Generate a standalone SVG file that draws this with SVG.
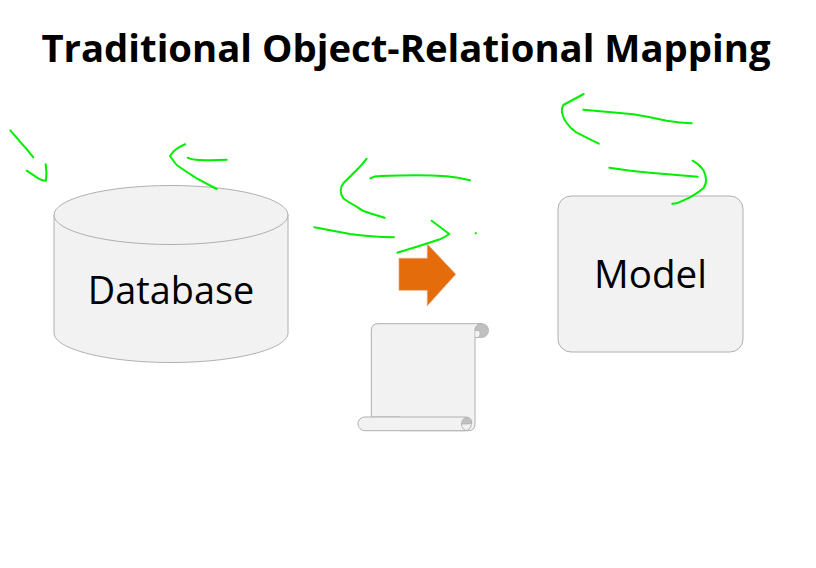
<svg xmlns="http://www.w3.org/2000/svg" width="816" height="568" viewBox="0 0 816 568">
<style>
.shape{fill:#f2f2f2;stroke:#b0b0b0;stroke-width:1}
.curl{fill:#c0c0c0;stroke:#b0b0b0;stroke-width:0.800}
.ink{fill:none;stroke:#00ee00;stroke-width:2;stroke-linecap:round;stroke-linejoin:round}
.label{font-family:"Open Sans","Noto Sans",sans-serif;fill:#000}
</style>
<rect width="816" height="568" fill="#fff"/>
<text id="title" class="label" x="406" y="62" text-anchor="middle" font-size="38.300" font-weight="700">Traditional Object-Relational Mapping</text>
<g id="database">
<path class="shape" d="M54 215V333C54 349 106.500 362.500 171 362.500S288 349 288 333V215Z"/>
<ellipse class="shape" cx="171" cy="215" rx="117" ry="29.500"/>
<text class="label" x="171" y="303.500" text-anchor="middle" font-size="37.800">Database</text>
</g>
<g id="model">
<rect class="shape" x="558" y="196" width="185" height="156" rx="13"/>
<text class="label" x="650.500" y="288" text-anchor="middle" font-size="38.600">Model</text>
</g>
<g id="arrow">
<path d="M399 258.300H427.300V244L455.700 274.300L427.300 305.700V290.300H399Z" fill="#e46c0a" stroke="#e9a080" stroke-width="0.700"/>
</g>
<g id="scroll">
<path class="shape" d="M371.300 417V330.500Q371.300 323.700 378 323.700H482C478 323.700 475 326.500 475 330.500V424Q475 430.700 468 430.700H400V417Z"/>
<rect x="475.500" y="330.500" width="5" height="7" fill="#f2f2f2"/>
<path class="curl" d="M475 330.500C475 326.500 478 323.700 482 323.700C486 323.700 488.500 327 488.500 330.500C488.500 334.500 485.500 337.500 481.500 337.500H478.500C480.500 335 480.500 331.500 478.500 330.500Z"/>
<path class="shape" d="M475 337.500H478.500"/>
<path class="shape" d="M365 417H465C469.500 417 471.500 420 471.500 423C471.500 426.500 469 430.700 465 430.700H365C361 430.700 358 427.500 358 423.800C358 420 361 417 365 417Z"/>
<path class="curl" d="M461.500 424C461.500 420 464 417.500 467 417.500C470 417.500 471.800 420 471.800 422C471.800 424 469 424 461.500 424Z"/>
<path d="M461.500 424C461.500 427.500 464 430.700 468 430.700" fill="#f2f2f2" stroke="#b0b0b0"/>
</g>
<g id="connectors">
<path class="ink" d="M10.300 130.300L20 141.700Q27 149 33.300 157.300"/>
<path class="ink" d="M26.700 170.700L38.300 178.300Q43 181 46 180.700Q47 173 45.700 164.300"/>
<path class="ink" d="M185.300 144.300Q175 148 170 156Q172 159 176.700 165Q185 171 196.700 178.300L216.700 189"/>
<path class="ink" d="M187.700 157.700Q192 160 200 160Q214 160.500 226.700 159.700"/>
<path class="ink" d="M366.700 158.700Q362 165 356.700 170L343.300 183.300Q338 190 343.300 198.300Q348 202 356.700 206.700Q362 211 370 213.300L384.700 217.700"/>
<path class="ink" d="M370.300 178.300Q374 176 380 176Q400 175.300 416.700 175.300Q432 175.300 446.700 176.300Q458 177.500 470 180.300"/>
<path class="ink" d="M314.300 227.300L350 234Q370 237 394 237.300"/>
<path class="ink" d="M431.700 220.700L449.300 234Q445 237 440 239.300Q420 246 397.300 252.700"/>
<path class="ink" d="M475.500 233.300h0.500" stroke-width="1"/>
<path class="ink" d="M583.700 94L563.300 105Q561 110 562.300 113.300Q563 118 566.700 123Q570 128 576.700 132.700L598.700 143.700"/>
<path class="ink" d="M583.300 109.700Q610 112 633.300 114.300Q650 117 666.700 120.700Q680 123 691.700 123.300"/>
<path class="ink" d="M609.300 167.700Q630 171 650 172.700L697.700 176.700"/>
<path class="ink" d="M692.700 160.700Q699 164 703.300 170Q706 175 706 180Q706 185 703.300 188.300Q698 193 690 197.300Q682 201 676.700 203.300L672.300 203.700"/>
</g>
</svg>
